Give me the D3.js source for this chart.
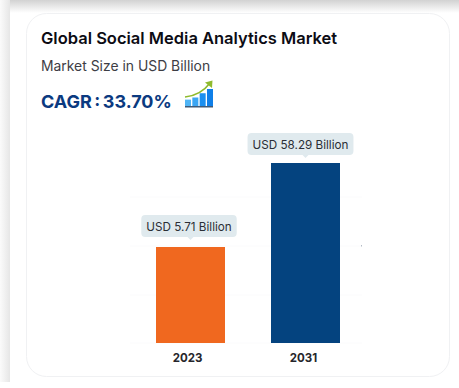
<!DOCTYPE html>
<html>
<head>
<meta charset="utf-8">
<script src="https://cdn.jsdelivr.net/npm/d3@7"></script>
<style>
    html, body { margin: 0; padding: 0; background: #fff; overflow: hidden; }
    text { font-family: Inter, "Noto Sans", sans-serif; }
</style>
</head>
<body>
<div id="chart"></div>
<script>
const titleText = 'Global Social Media Analytics Market';
const subtitleText = 'Market Size in USD Billion';
const cagrText = 'CAGR : 33.70%';
const years = ['2023', '2031'];
const marketSize = [5.71, 58.29];
const barLabels = ['USD 5.71 Billion', 'USD 58.29 Billion'];
const barColors = ['#f0681f', '#04437f'];
const iconBars = [3, 4, 6, 8];
const iconBarColors = ['#4fb4f5', '#3aa5f3', '#1a8ff0', '#0f7fe8'];

const width = 459,
    height = 388,
    baseline = 343;

const svg = d3.select('#chart').append('svg')
    .attr('width', width)
    .attr('height', height)
    .style('display', 'block');

const defs = svg.append('defs');

function addFade(id, x2, y2, from, to) {
    const grad = defs.append('linearGradient').attr('id', id)
        .attr('x1', 0).attr('y1', 0).attr('x2', x2).attr('y2', y2);
    grad.append('stop').attr('offset', 0).attr('stop-color', from);
    grad.append('stop').attr('offset', 1).attr('stop-color', to);
}

addFade('topFade', 0, 1, '#d2d2d2', '#ffffff');
addFade('leftFade', 1, 0, '#fbfbfb', '#e6e6e6');

svg.append('rect')
    .attr('width', width).attr('height', height)
    .attr('fill', '#fff');

// grey edges of the page around the outer panel
svg.append('rect')
    .attr('x', 0).attr('y', 0)
    .attr('width', 10).attr('height', 382)
    .attr('fill', 'url(#leftFade)');

svg.append('rect')
    .attr('x', 10).attr('y', 0)
    .attr('width', width - 10).attr('height', 13)
    .attr('fill', 'url(#topFade)');

// inner card
svg.append('rect')
    .attr('x', 26.5).attr('y', 13.5)
    .attr('width', 423).attr('height', 363)
    .attr('rx', 20)
    .attr('fill', '#fff')
    .attr('stroke', '#f0f1f3');

svg.append('text')
    .attr('x', 41).attr('y', 44)
    .attr('font-size', 16.5)
    .attr('font-weight', 600)
    .attr('fill', '#0c0c14')
    .text(titleText);

svg.append('text')
    .attr('x', 41).attr('y', 71)
    .attr('font-size', 13.9)
    .attr('fill', '#3d3d45')
    .text(subtitleText);

svg.append('text')
    .attr('x', 41).attr('y', 108)
    .attr('font-size', 18)
    .attr('font-weight', 700)
    .attr('word-spacing', -1.8)
    .attr('fill', '#0b3a80')
    .text(cagrText);

// little growth icon next to the CAGR
const icon = svg.append('g').attr('transform', 'translate(185,80)');
const iconX = d3.scaleBand().domain(d3.range(iconBars.length)).range([0, 28]).paddingInner(0.18);
const iconY = d3.scaleLinear().domain([0, 8]).range([26, 9]);

icon.selectAll('rect.iconBar').data(iconBars).enter().append('rect')
    .attr('class', 'iconBar')
    .attr('x', function (d, i) { return iconX(i); })
    .attr('y', function (d) { return iconY(d); })
    .attr('width', iconX.bandwidth())
    .attr('height', function (d) { return 26 - iconY(d); })
    .attr('fill', function (d, i) { return iconBarColors[i]; });

icon.append('rect')
    .attr('x', 0).attr('y', 26)
    .attr('width', 28).attr('height', 1.5)
    .attr('fill', '#3f5a78');

icon.append('path')
    .attr('d', 'M0,17 C10,16 19,11 25,3')
    .attr('fill', 'none')
    .attr('stroke', '#8fba2e')
    .attr('stroke-width', 1.6);

icon.append('path')
    .attr('d', 'M20,2.5 L27.5,0.5 L27,8 Z')
    .attr('fill', '#8fba2e');

// gridlines are nearly invisible in the original
const gridRows = [197, 246, 295, baseline];
svg.selectAll('line.grid').data(gridRows).enter().append('line')
    .attr('class', 'grid')
    .attr('x1', 130).attr('x2', 362)
    .attr('y1', function (d) { return d; })
    .attr('y2', function (d) { return d; })
    .attr('stroke', '#fbfbfc');

// stray tick mark right of the blue bar
svg.append('rect')
    .attr('x', 361).attr('y', 245)
    .attr('width', 1).attr('height', 1.5)
    .attr('fill', '#b4bcc6');

const x = d3.scaleBand()
    .domain(years)
    .range([133, 363])
    .paddingInner(0.4)
    .paddingOuter(0.2);

// the bars in the picture are not proportional to their values, so the
// scale has a knot at each value to land on the drawn heights
const y = d3.scaleLinear()
    .domain([0, marketSize[0], marketSize[1]])
    .range([baseline, 247, 163]);

svg.selectAll('rect.bar').data(marketSize).enter().append('rect')
    .attr('class', 'bar')
    .attr('x', function (d, i) { return x(years[i]); })
    .attr('y', function (d) { return y(d); })
    .attr('width', x.bandwidth())
    .attr('height', function (d) { return baseline - y(d); })
    .attr('fill', function (d, i) { return barColors[i]; });

// label boxes sit a bit off the bar centre, the arrow stays centred
const tipShiftX = [-1.5, -5],
    tipShiftY = [0, 2];

const tip = svg.selectAll('g.tip').data(marketSize).enter().append('g')
    .attr('class', 'tip')
    .attr('transform', function (d, i) {
        return 'translate(' + (x(years[i]) + x.bandwidth() / 2) + ',' + y(d) + ')';
    });

tip.append('text')
    .attr('text-anchor', 'middle')
    .attr('x', function (d, i) { return tipShiftX[i]; })
    .attr('y', function (d, i) { return -16.5 + tipShiftY[i]; })
    .attr('font-size', 11.7)
    .attr('fill', '#2b2f36')
    .text(function (d, i) { return barLabels[i]; });

tip.insert('rect', 'text')
    .each(function (d, i) {
        const box = this.parentNode.querySelector('text').getBBox();
        d3.select(this)
            .attr('x', box.x - 5)
            .attr('y', -32 + tipShiftY[i])
            .attr('width', box.width + 10)
            .attr('height', 22);
    })
    .attr('rx', 4)
    .attr('fill', '#e0eaee');

tip.insert('path', 'text')
    .attr('d', function (d, i) {
        const top = -10 + tipShiftY[i];
        return 'M-3,' + top + ' L0,' + (top + 3) + ' L3,' + top + ' Z';
    })
    .attr('fill', '#e0eaee');

const xAxis = svg.append('g')
    .attr('transform', 'translate(0,' + baseline + ')')
    .call(d3.axisBottom(x).tickSize(0).tickPadding(11));

xAxis.select('.domain').remove();
xAxis.selectAll('text')
    .attr('dx', function (d, i) { return i === 0 ? -3 : -2; })
    .attr('font-family', 'Inter')
    .attr('font-size', 11.5)
    .attr('font-weight', 700)
    .attr('fill', '#26262c');
</script>
</body>
</html>
